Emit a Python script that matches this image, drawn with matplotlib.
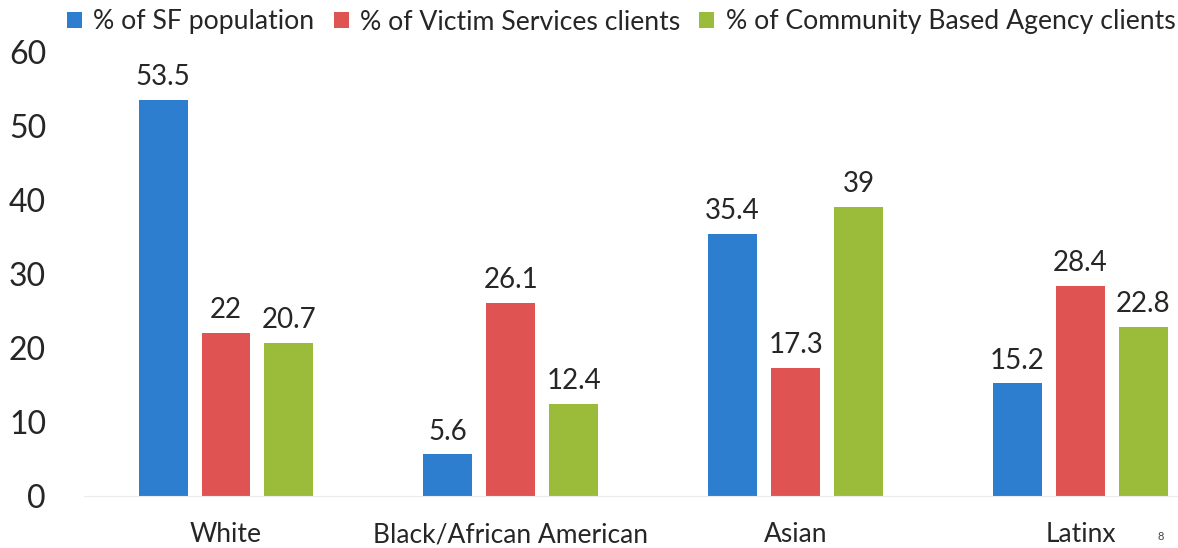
import matplotlib
matplotlib.use("Agg")
import matplotlib.pyplot as plt
import numpy as np

categories = ["White", "Black/African American", "Asian", "Latinx"]
series_names = ["% of SF population", "% of Victim Services clients",
                "% of Community Based Agency clients"]
sf_pop = [53.5, 5.6, 35.4, 15.2]
victim_services = [22, 26.1, 17.3, 28.4]
community_agency = [20.7, 12.4, 39, 22.8]
value_labels = [["53.5", "5.6", "35.4", "15.2"],
                ["22", "26.1", "17.3", "28.4"],
                ["20.7", "12.4", "39", "22.8"]]
yticks = [0, 10, 20, 30, 40, 50, 60]

colors = ["#2E7ECF", "#E05353", "#9BBC3B"]
txt = '#262626'
plt.rcParams['font.family'] = ['Lato', 'DejaVu Sans']

W, H = 1178, 548
fig = plt.figure(figsize=(W/100, H/100), dpi=100)
y0, y60 = 495.7, 51.7
left, gw = 83.6, 284.8
ax = fig.add_axes([left/W, 1 - y0/H, 4*gw/W, (y0 - y60)/H])

x = np.arange(len(categories))
w = 0.172
offs = [-0.221, 0, 0.221]
data = [sf_pop, victim_services, community_agency]
for i, (vals, c, name) in enumerate(zip(data, colors, series_names)):
    bars = ax.bar(x + offs[i], vals, w, color=c, label=name)
    for b, lab in zip(bars, value_labels[i]):
        ax.text(b.get_x() + b.get_width()/2, b.get_height() + 1.3, lab,
                ha='center', va='bottom', fontsize=20, color=txt)

ax.set_ylim(0, 60)
ax.set_xlim(-0.5, 3.5)
ax.set_yticks(yticks)
ax.set_yticklabels([str(t) for t in yticks], fontsize=23, color=txt)
ax.set_xticks(x)
ax.set_xticklabels(categories, fontsize=19, color=txt)
ax.tick_params(axis='both', length=0)
ax.tick_params(axis='x', pad=19)
ax.tick_params(axis='y', pad=27)
for s in ['top', 'right', 'left']:
    ax.spines[s].set_visible(False)
ax.spines['bottom'].set_color('#EBEBEB')

leg = fig.legend(loc='center left', bbox_to_anchor=(62/W, 1 - 22/H), ncol=3,
                 frameon=False, fontsize=19.2, handlelength=0.56, handleheight=0.56,
                 handletextpad=0.42, columnspacing=0.72, labelcolor=txt,
                 borderaxespad=0, borderpad=0.2)

fig.text(1161/W, 1 - 537/H, "8", fontsize=8, color='#444444', ha='center', va='center')

fig.savefig("out.png", dpi=100)
